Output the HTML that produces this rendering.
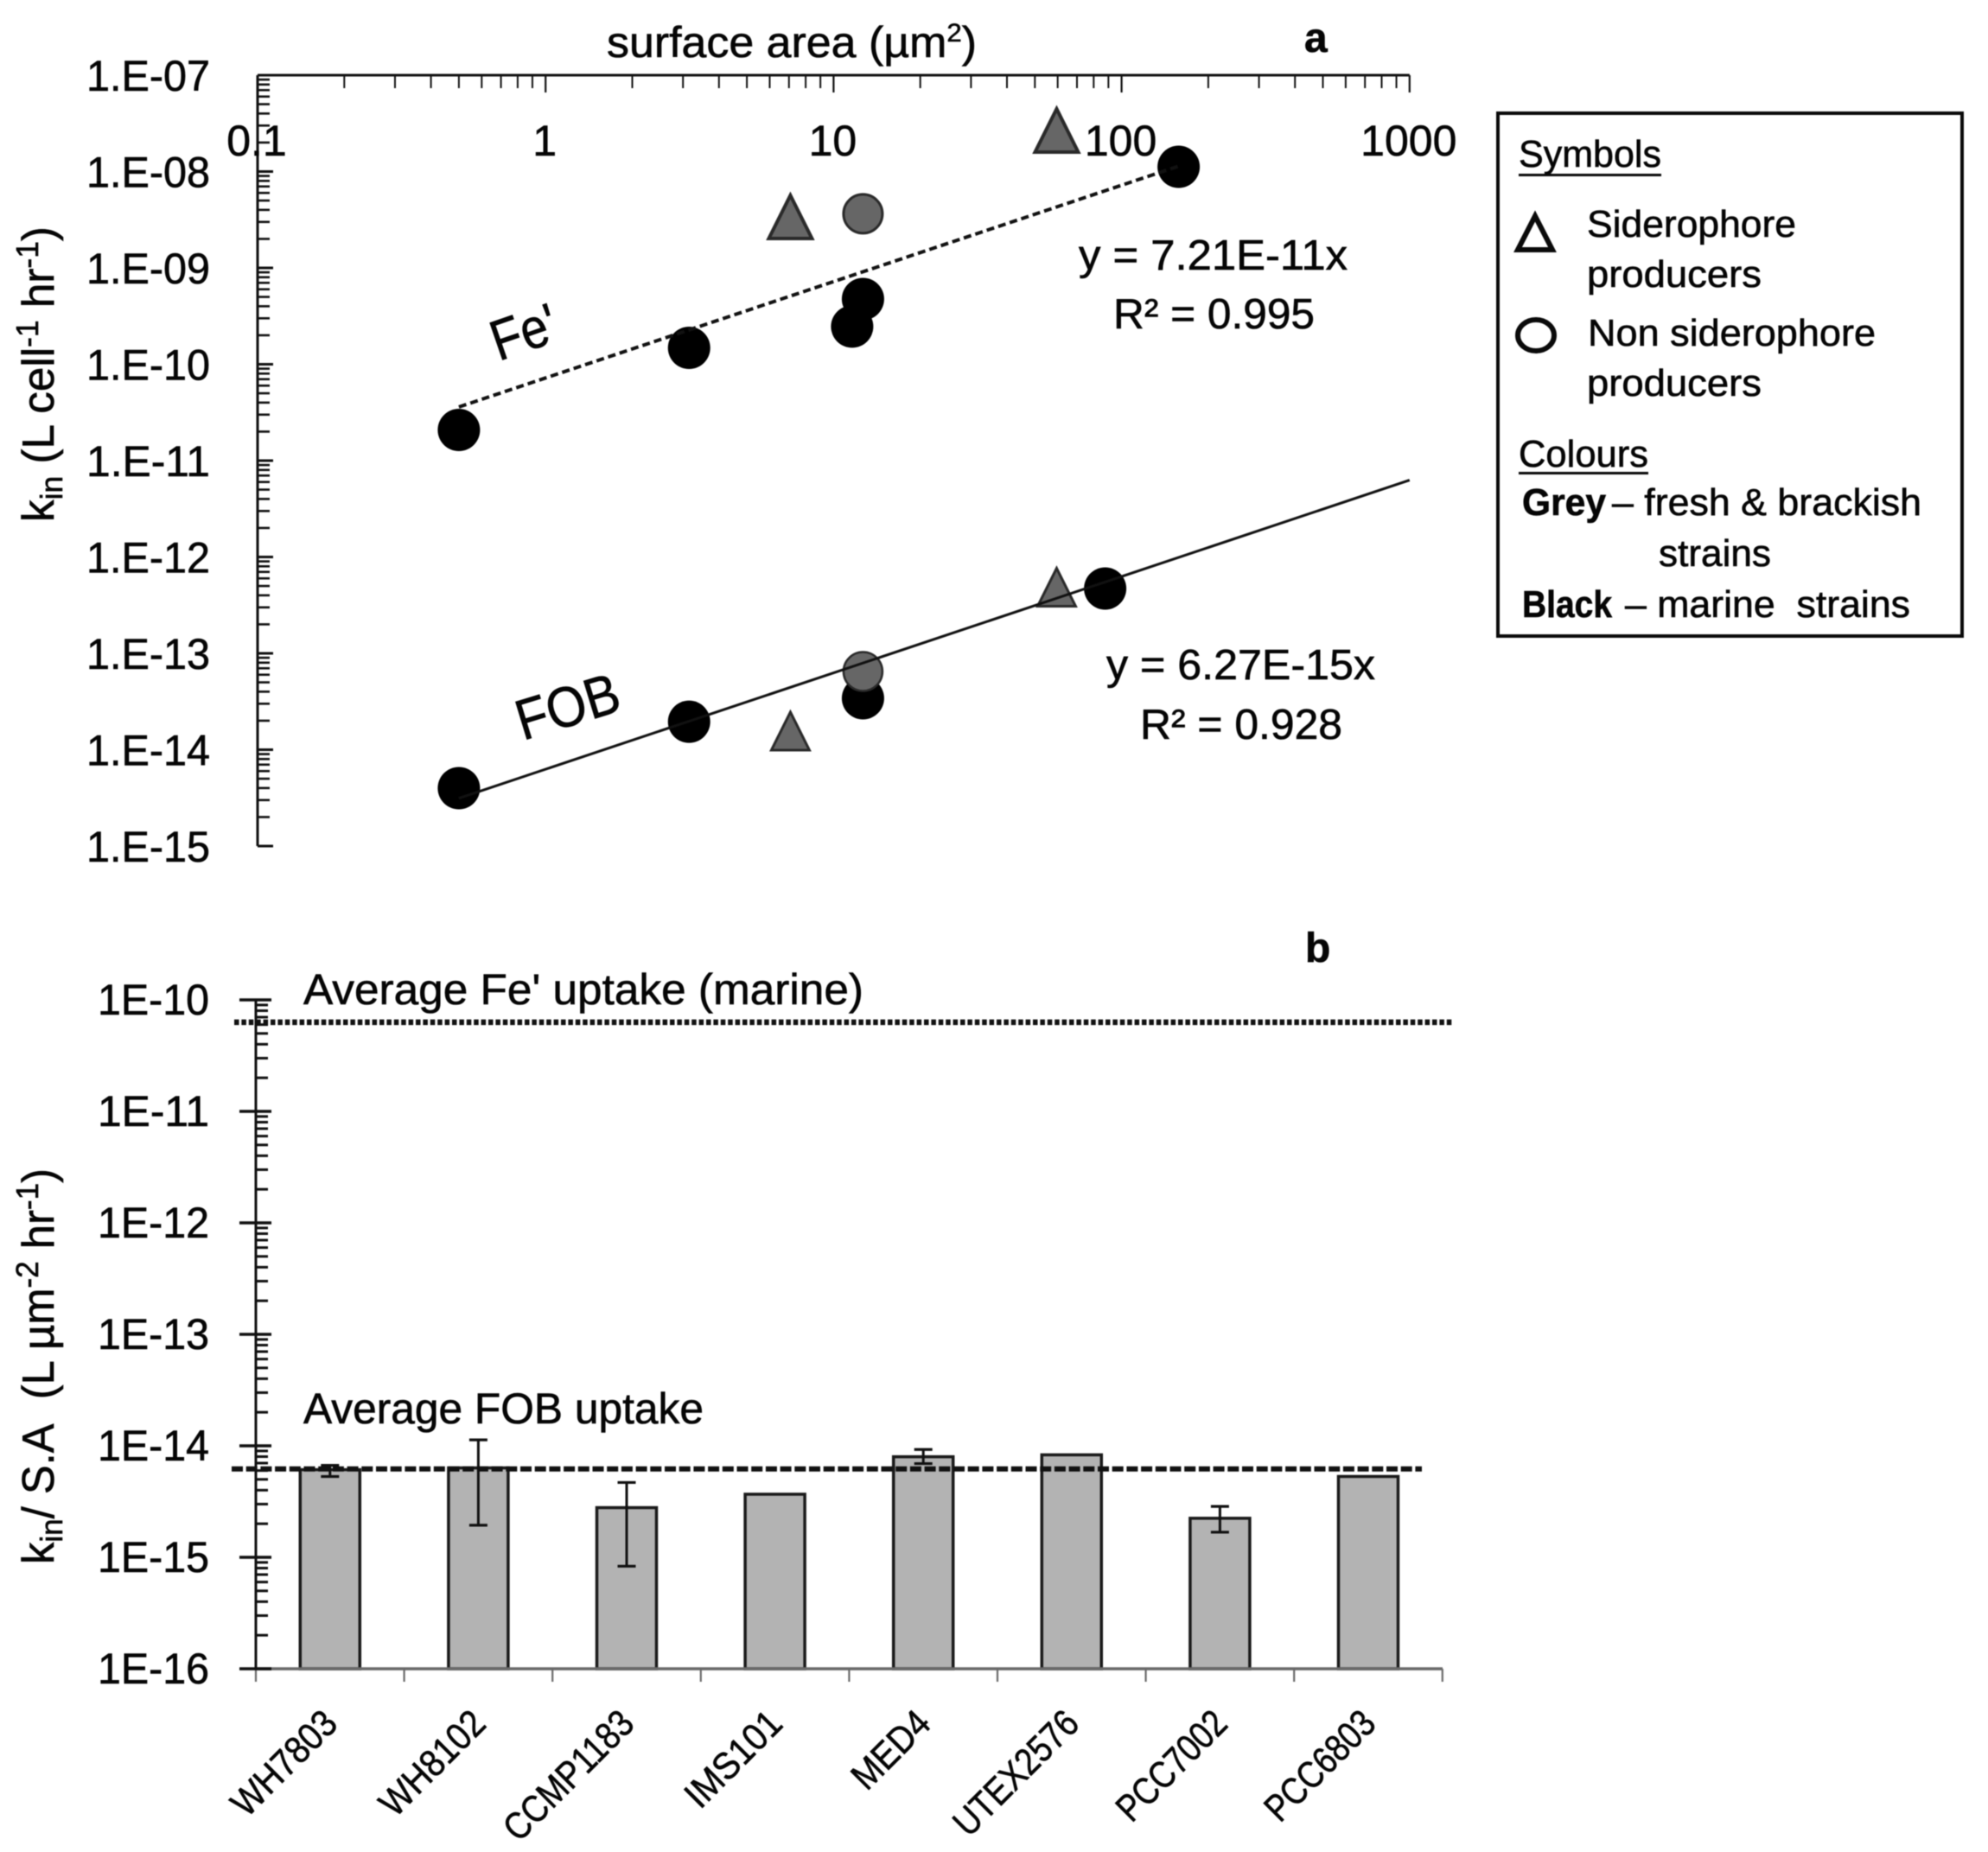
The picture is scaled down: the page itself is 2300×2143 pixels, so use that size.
<!DOCTYPE html>
<html lang="en">
<head>
<meta charset="utf-8">
<title>Iron uptake rates versus cell surface area</title>
<style>
html,body{margin:0;padding:0;background:#fff;}
svg{display:block;filter:blur(0.6px);}
text{font-family:"Liberation Sans",sans-serif;fill:#050505;stroke:#050505;stroke-width:0.6px;}
.big{font-size:50px;}
.leg{font-size:44px;}
.b{font-weight:bold;}
</style>
</head>
<body>
<svg id="figure" xmlns="http://www.w3.org/2000/svg" width="2300" height="2143" viewBox="0 0 2300 2143">
  <rect x="0" y="0" width="2300" height="2143" fill="#fff"/>

  <g id="panelA"></g>
  <g id="panelB"></g>

  <text class="big" x="702" y="66" textLength="428" lengthAdjust="spacingAndGlyphs">surface area (µm<tspan font-size="30" dy="-18">2</tspan><tspan dy="18">)</tspan></text>
  <text class="b" font-size="48" x="1509" y="60">a</text>
  <text class="b" font-size="48" x="1510" y="1113">b</text>

  <text font-size="52" transform="translate(62,604) rotate(-90)" textLength="342" lengthAdjust="spacingAndGlyphs">k<tspan font-size="36" dy="10">in</tspan><tspan dy="-10"> (L cell</tspan><tspan font-size="36" dy="-18">-1</tspan><tspan dy="18"> hr</tspan><tspan font-size="36" dy="-18">-1</tspan><tspan dy="18">)</tspan></text>
  <text font-size="52" transform="translate(62,1810) rotate(-90)" textLength="458" lengthAdjust="spacingAndGlyphs">k<tspan font-size="36" dy="10">in</tspan><tspan dy="-10">/ S.A&#160;&#160;(L µm</tspan><tspan font-size="36" dy="-18">-2</tspan><tspan dy="18"> hr</tspan><tspan font-size="36" dy="-18">-1</tspan><tspan dy="18">)</tspan></text>

  <text font-size="66" transform="translate(577,418) rotate(-19)" textLength="77" lengthAdjust="spacingAndGlyphs">Fe'</text>
  <text font-size="66" transform="translate(605,857) rotate(-17)" textLength="122" lengthAdjust="spacingAndGlyphs">FOB</text>

  <text font-size="49" x="1248" y="312" textLength="311" lengthAdjust="spacingAndGlyphs">y = 7.21E-11x</text>
  <text font-size="49" x="1288" y="380" textLength="233" lengthAdjust="spacingAndGlyphs">R² = 0.995</text>
  <text font-size="49" x="1280" y="786" textLength="311" lengthAdjust="spacingAndGlyphs">y = 6.27E-15x</text>
  <text font-size="49" x="1319" y="855" textLength="234" lengthAdjust="spacingAndGlyphs">R² = 0.928</text>

  <text class="big" x="351" y="1162" textLength="648" lengthAdjust="spacingAndGlyphs">Average Fe' uptake (marine)</text>
  <text class="big" x="351" y="1647" textLength="463" lengthAdjust="spacingAndGlyphs">Average FOB uptake</text>

  <g>
    <rect x="1733" y="131" width="537" height="605" fill="#fff" stroke="#0a0a0a" stroke-width="4"/>
    <text class="leg" x="1757" y="193" textLength="165" lengthAdjust="spacingAndGlyphs">Symbols</text>
    <line x1="1757" x2="1922" y1="202.5" y2="202.5" stroke="#0a0a0a" stroke-width="3"/>
    <polygon points="1776,250 1796,289 1756,289" fill="#fff" stroke="#0a0a0a" stroke-width="6"/>
    <text class="leg" x="1836" y="274" textLength="242" lengthAdjust="spacingAndGlyphs">Siderophore</text>
    <text class="leg" x="1836" y="332" textLength="202" lengthAdjust="spacingAndGlyphs">producers</text>
    <ellipse cx="1777" cy="388" rx="21" ry="18" fill="#fff" stroke="#0a0a0a" stroke-width="6"/>
    <text class="leg" x="1837" y="400" textLength="333" lengthAdjust="spacingAndGlyphs">Non siderophore</text>
    <text class="leg" x="1836" y="458" textLength="202" lengthAdjust="spacingAndGlyphs">producers</text>
    <text class="leg" x="1757" y="540" textLength="150" lengthAdjust="spacingAndGlyphs">Colours</text>
    <line x1="1757" x2="1907" y1="547.5" y2="547.5" stroke="#0a0a0a" stroke-width="3"/>
    <text class="leg b" x="1761" y="596" textLength="97" lengthAdjust="spacingAndGlyphs">Grey</text>
    <text class="leg" x="1865" y="596" textLength="358" lengthAdjust="spacingAndGlyphs">– fresh &amp; brackish</text>
    <text class="leg" x="1919" y="655" textLength="130" lengthAdjust="spacingAndGlyphs">strains</text>
    <text class="leg b" x="1761" y="714" textLength="104" lengthAdjust="spacingAndGlyphs">Black</text>
    <text class="leg" x="1880" y="714" textLength="330" lengthAdjust="spacingAndGlyphs">– marine&#160;&#160;strains</text>
  </g>

<script>
/* Panel a: data */
const xDecades = [0.1, 1, 10, 100, 1000];
const xTickLabels = ["0.1", "1", "10", "100", "1000"];
const yDecadesA = [1e-7, 1e-8, 1e-9, 1e-10, 1e-11, 1e-12, 1e-13, 1e-14, 1e-15];
const yTickLabelsA = ["1.E-07", "1.E-08", "1.E-09", "1.E-10", "1.E-11", "1.E-12", "1.E-13", "1.E-14", "1.E-15"];
const minorMultipliers = [2, 3, 4, 5, 6, 7, 8, 9];

const feMarineArea = [0.5, 3.15, 11.6, 12.65, 157.8];
const feMarineKin = [2.08e-11, 1.48e-10, 2.46e-10, 4.75e-10, 1.12e-8];
const feGreyCircleArea = [12.65];
const feGreyCircleKin = [3.64e-9];
const feTriangleArea = [7.08, 59.5];
const feTriangleKin = [3.38e-9, 2.67e-8];
const feFitSlope = 7.21e-11;
const feFitRange = [0.5, 157.8];

const fobMarineArea = [0.5, 3.15, 12.65, 87.7];
const fobMarineKin = [3.99e-15, 1.95e-14, 3.42e-14, 4.71e-13];
const fobGreyCircleArea = [12.65];
const fobGreyCircleKin = [6.48e-14];
const fobTriangleArea = [7.08, 59.5];
const fobTriangleKin = [1.56e-14, 4.85e-13];
const fobFitSlope = 6.27e-15;
const fobFitRange = [0.5, 1000];

/* Panel b: data */
const strains = ["WH7803", "WH8102", "CCMP1183", "IMS101", "MED4", "UTEX2576", "PCC7002", "PCC6803"];
const strainLabelLengths = [152, 152, 192, 138, 108, 184, 160, 160];
const kinPerArea = [6.11e-15, 6.34e-15, 2.79e-15, 3.68e-15, 7.98e-15, 8.30e-15, 2.24e-15, 5.31e-15];
const errorHigh = [6.68e-15, 1.13e-14, 4.69e-15, null, 9.27e-15, null, 2.86e-15, null];
const errorLow = [5.31e-15, 1.94e-15, 8.32e-16, null, 6.93e-15, null, 1.68e-15, null];
const yDecadesB = [1e-10, 1e-11, 1e-12, 1e-13, 1e-14, 1e-15, 1e-16];
const yTickLabelsB = ["1E-10", "1E-11", "1E-12", "1E-13", "1E-14", "1E-15", "1E-16"];
const averageFeUptake = 6.3e-11;
const averageFobUptake = 6.2e-15;

const SVGNS = "http://www.w3.org/2000/svg";
const panelA = document.getElementById("panelA");
const panelB = document.getElementById("panelB");

function node(tag, attrs, parent) {
  const el = document.createElementNS(SVGNS, tag);
  for (const k in attrs) el.setAttribute(k, attrs[k]);
  parent.appendChild(el);
  return el;
}

/* axis functions */
function xA(v) { return 298 + (Math.log10(v) + 1) * 333.2; }
function yA(v) { return 87 + (-7 - Math.log10(v)) * 111.5; }
function yB(v) { return 1157 + (-10 - Math.log10(v)) * 129; }
function xB(i) { return 296 + (i + 0.5) * 171.6; }

/* ---------- Panel a axes ---------- */
const topAxis = node("line", {x1: xA(0.1), x2: xA(1000), y1: 87, y2: 87, stroke: "#111", "stroke-width": 3}, panelA);


const leftAxisA = node("line", {x1: 298, x2: 298, y1: 87, y2: yA(1e-15), stroke: "#111", "stroke-width": 3}, panelA);



xDecades.forEach(function (d, i) {
  const major = node("line", {x1: xA(d), x2: xA(d), y1: 87, y2: 107, stroke: "#111", "stroke-width": 2.2}, panelA);
  
  
  const label = node("text", {x: xA(d) - 1, y: 180, "text-anchor": "middle", "font-size": 50}, panelA);
  
  
  label.textContent = xTickLabels[i];
  if (i < xDecades.length - 1) {
    minorMultipliers.forEach(function (m) {
      const minor = node("line", {x1: xA(d * m), x2: xA(d * m), y1: 87, y2: 102, stroke: "#111", "stroke-width": 2}, panelA);
      
      
    });
  }
});

yDecadesA.forEach(function (d, i) {
  const major = node("line", {x1: 298, x2: 316, y1: yA(d), y2: yA(d), stroke: "#111", "stroke-width": 3}, panelA);
  
  
  const label = node("text", {x: 243, y: yA(d) + 18, "text-anchor": "end", "font-size": 50, textLength: 143, lengthAdjust: "spacingAndGlyphs"}, panelA);
  
  
  label.textContent = yTickLabelsA[i];
  if (i < yDecadesA.length - 1) {
    minorMultipliers.forEach(function (m) {
      const minor = node("line", {x1: 298, x2: 312, y1: yA(d / 10 * m), y2: yA(d / 10 * m), stroke: "#111", "stroke-width": 2.6}, panelA);
      
      
    });
  }
});

/* ---------- Panel a marks ---------- */
function triangle(area, kin, halfWidth, halfHeight, strokeWidth, name) {
  const cx = xA(area), cy = yA(kin);
  const pts = cx + "," + (cy - halfHeight) + " " + (cx + halfWidth) + "," + (cy + halfHeight) + " " + (cx - halfWidth) + "," + (cy + halfHeight);
  const tri = node("polygon", {points: pts, fill: "#666", stroke: "#2a2a2a", "stroke-width": strokeWidth, "stroke-linejoin": "miter"}, panelA);
  
  
}

feMarineArea.forEach(function (a, i) {
  const dot = node("circle", {cx: xA(a), cy: yA(feMarineKin[i]), r: 24.5, fill: "#000"}, panelA);
  
  
});
feGreyCircleArea.forEach(function (a, i) {
  const dot = node("circle", {cx: xA(a), cy: yA(feGreyCircleKin[i]), r: 22.5, fill: "#666", stroke: "#2a2a2a", "stroke-width": 3}, panelA);
  
  
});
feTriangleArea.forEach(function (a, i) {
  triangle(a, feTriangleKin[i], 25, 25, 4, "fe-siderophore-triangle");
});

fobMarineArea.forEach(function (a, i) {
  const dot = node("circle", {cx: xA(a), cy: yA(fobMarineKin[i]), r: 24.5, fill: "#000"}, panelA);
  
  
});
fobGreyCircleArea.forEach(function (a, i) {
  const dot = node("circle", {cx: xA(a), cy: yA(fobGreyCircleKin[i]), r: 22.5, fill: "#666", stroke: "#2a2a2a", "stroke-width": 2.5}, panelA);
  
  
});
fobTriangleArea.forEach(function (a, i) {
  triangle(a, fobTriangleKin[i], 22, 22, 3, "fob-siderophore-triangle");
});

const feFit = node("line", {
  x1: xA(feFitRange[0]), y1: yA(feFitSlope * feFitRange[0]),
  x2: xA(feFitRange[1]), y2: yA(feFitSlope * feFitRange[1]),
  stroke: "#111", "stroke-width": 4, "stroke-dasharray": "9 5"
}, panelA);



const fobFit = node("line", {
  x1: xA(fobFitRange[0]), y1: yA(fobFitSlope * fobFitRange[0]),
  x2: xA(fobFitRange[1]), y2: yA(fobFitSlope * fobFitRange[1]),
  stroke: "#111", "stroke-width": 3
}, panelA);



/* ---------- Panel b bars ---------- */
const barBase = yB(1e-16);
strains.forEach(function (name, i) {
  const top = yB(kinPerArea[i]);
  const bar = node("rect", {x: xB(i) - 34.5, y: top, width: 69, height: barBase - top, fill: "#b3b3b3", stroke: "#1a1a1a", "stroke-width": 3.5}, panelB);
  
  
});

/* ---------- Panel b axes ---------- */
const xAxisB = node("line", {x1: 296, x2: 1669, y1: barBase, y2: barBase, stroke: "#6a6a6a", "stroke-width": 3.5}, panelB);


for (let i = 0; i <= strains.length; i++) {
  const tickX = 296 + i * 171.6;
  const tick = node("line", {x1: tickX, x2: tickX, y1: barBase, y2: barBase + 15, stroke: "#6a6a6a", "stroke-width": 2.2}, panelB);
  
  
}
const leftAxisB = node("line", {x1: 296, x2: 296, y1: yB(1e-10), y2: barBase, stroke: "#111", "stroke-width": 3}, panelB);



yDecadesB.forEach(function (d, i) {
  const major = node("line", {x1: 277, x2: 314, y1: yB(d), y2: yB(d), stroke: "#111", "stroke-width": 3.5}, panelB);
  
  
  const label = node("text", {x: 242, y: yB(d) + 17, "text-anchor": "end", "font-size": 50, textLength: 129, lengthAdjust: "spacingAndGlyphs"}, panelB);
  
  
  label.textContent = yTickLabelsB[i];
  if (i < yDecadesB.length - 1) {
    minorMultipliers.forEach(function (m) {
      const minor = node("line", {x1: 296, x2: 310, y1: yB(d / 10 * m), y2: yB(d / 10 * m), stroke: "#111", "stroke-width": 3}, panelB);
      
      
    });
  }
});

/* ---------- Panel b error bars and category labels ---------- */
strains.forEach(function (name, i) {
  const cx = xB(i);
  if (errorHigh[i] !== null) {
    const stem = node("line", {x1: cx, x2: cx, y1: yB(errorHigh[i]), y2: yB(errorLow[i]), stroke: "#111", "stroke-width": 3}, panelB);
    
    
    const capHigh = node("line", {x1: cx - 10.5, x2: cx + 10.5, y1: yB(errorHigh[i]), y2: yB(errorHigh[i]), stroke: "#111", "stroke-width": 3.2}, panelB);
    
    
    const capLow = node("line", {x1: cx - 10.5, x2: cx + 10.5, y1: yB(errorLow[i]), y2: yB(errorLow[i]), stroke: "#111", "stroke-width": 3.2}, panelB);
    
    
  }
  const endX = cx + 11;
  const cat = node("text", {
    transform: "translate(" + endX + ",1997) rotate(-45)",
    "text-anchor": "end", "font-size": 44,
    textLength: strainLabelLengths[i], lengthAdjust: "spacingAndGlyphs"
  }, panelB);
  
  
  cat.textContent = name;
});

/* ---------- Panel b reference lines ---------- */
const feAverage = node("line", {x1: 271, x2: 1680, y1: yB(averageFeUptake), y2: yB(averageFeUptake), stroke: "#111", "stroke-width": 6.5, "stroke-dasharray": "5.5 2.9"}, panelB);


const fobAverage = node("line", {x1: 268, x2: 1645, y1: yB(averageFobUptake), y2: yB(averageFobUptake), stroke: "#111", "stroke-width": 6, "stroke-dasharray": "13 3.7"}, panelB);


</script>
</svg>
</body>
</html>
